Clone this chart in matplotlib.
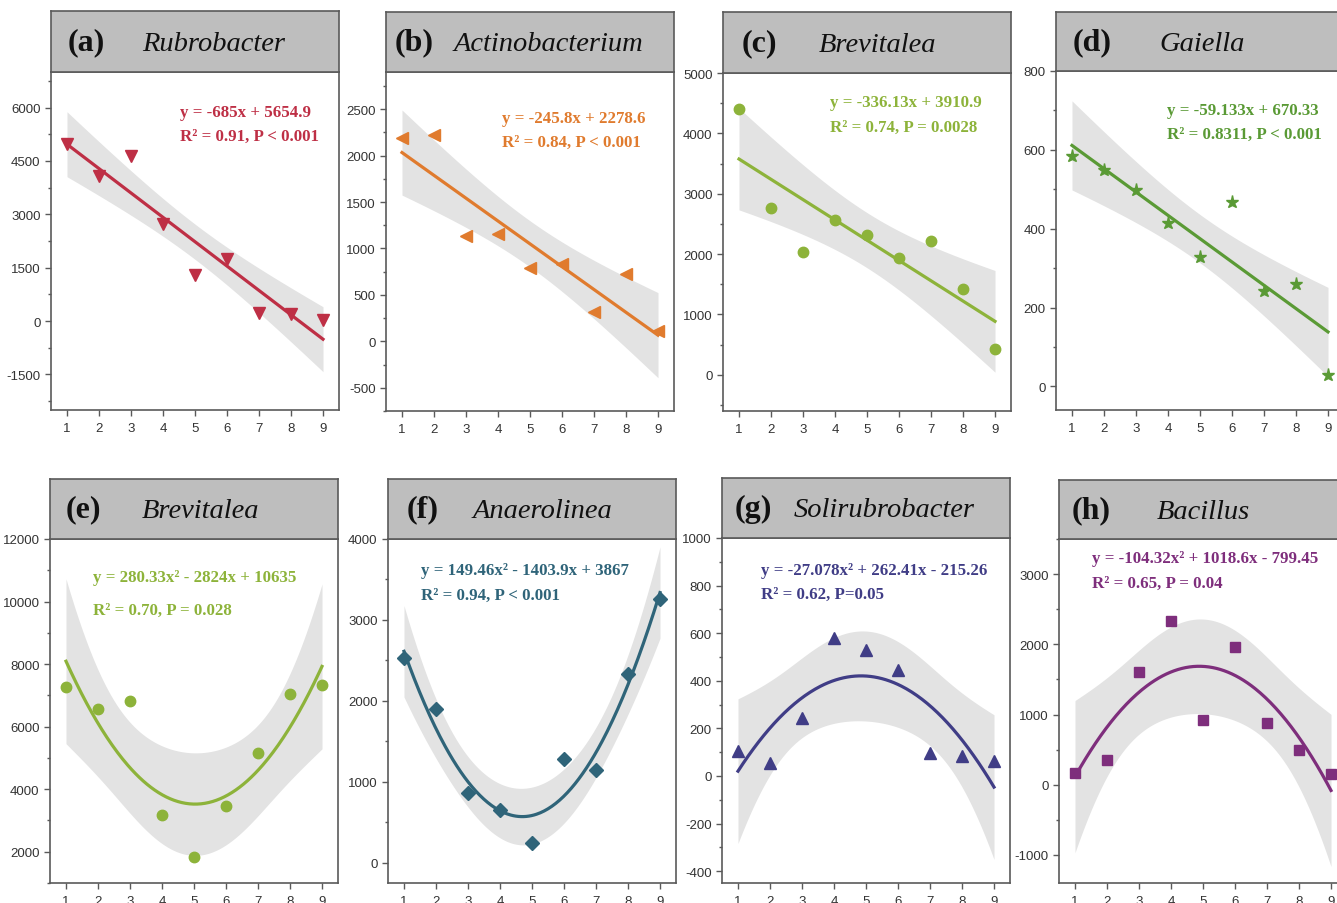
import numpy as np
import matplotlib
matplotlib.use('Agg')
from matplotlib import pyplot as plt
from matplotlib.ticker import MultipleLocator

plt.rcParams['axes.unicode_minus'] = False

# data, x = 1..9 for every panel
x = np.arange(1, 10)

y_a = [4970, 4080, 4640, 2740, 1285, 1755, 236, 188, 20]
y_b = [2187, 2222, 1135, 1160, 795, 835, 313, 727, 108]
y_c = [4397, 2763, 2034, 2569, 2321, 1934, 2221, 1420, 431]
y_d = [584, 548, 497, 414, 328, 468, 241, 259, 30]
y_e = [7267, 6552, 6808, 3160, 1842, 3456, 5160, 7044, 7331]
y_f = [2531, 1896, 864, 649, 247, 1288, 1143, 2337, 3263]
y_g = [105, 53, 243, 581, 528, 446, 97, 84, 64]
y_h = [166, 346, 1612, 2329, 925, 1959, 872, 498, 152]

# fit coefficients as printed on each panel (highest power first)
coef_a = [-685, 5654.9]
coef_b = [-245.8, 2278.6]
coef_c = [-336.13, 3910.9]
coef_d = [-59.133, 670.33]
coef_e = [280.33, -2824, 10635]
coef_f = [149.46, -1403.9, 3867]
coef_g = [-27.078, 262.41, -215.26]
coef_h = [-104.32, 1018.6, -799.45]

letters = ['(a)', '(b)', '(c)', '(d)', '(e)', '(f)', '(g)', '(h)']
genera = ['Rubrobacter', 'Actinobacterium', 'Brevitalea', 'Gaiella',
          'Brevitalea', 'Anaerolinea', 'Solirubrobacter', 'Bacillus']
eq_lines = [
    ('y = -685x + 5654.9', 'R² = 0.91, P < 0.001'),
    ('y = -245.8x + 2278.6', 'R² = 0.84, P < 0.001'),
    ('y = -336.13x + 3910.9', 'R² = 0.74, P = 0.0028'),
    ('y = -59.133x + 670.33', 'R² = 0.8311, P < 0.001'),
    ('y = 280.33x² - 2824x + 10635', 'R² = 0.70, P = 0.028'),
    ('y = 149.46x² - 1403.9x + 3867', 'R² = 0.94, P < 0.001'),
    ('y = -27.078x² + 262.41x - 215.26', 'R² = 0.62, P=0.05'),
    ('y = -104.32x² + 1018.6x - 799.45', 'R² = 0.65, P = 0.04'),
]
ylims = [(-2500, 7000), (-750, 2900), (-600, 5000), (-60, 800),
         (1000, 12000), (-250, 4000), (-450, 1000), (-1400, 3500)]
ymajor = [1500, 500, 1000, 200, 2000, 1000, 200, 1000]

colors = ['#BE2F45', '#E07B2E', '#8DB33A', '#5A9A35',
          '#8DB33A', '#2F6479', '#403D86', '#7E2E7C']
markers = ['v', '<', 'o', '*', 'o', 'D', '^', 's']
msizes = [8.5, 8.5, 7.5, 9.5, 7.5, 7, 8.5, 6.5]

# panel boxes in pixels: left, top of header, top of plot, bottom of plot
boxes = [(51, 12, 73, 411), (386, 13, 73, 412), (723, 13, 74, 412), (1056, 13, 72, 411),
         (50, 480, 540, 884), (388, 480, 540, 884), (722, 479, 539, 884), (1059, 481, 540, 884)]
PW = 288
eq_pos = [(0.449, 0.881, 0.810), (0.403, 0.865, 0.794), (0.37, 0.914, 0.84),
          (0.385, 0.886, 0.815), (0.149, 0.89, 0.794), (0.114, 0.911, 0.837),
          (0.137, 0.908, 0.839), (0.114, 0.945, 0.872)]
head_pos = [(0.059, 0.317), (0.031, 0.236), (0.065, 0.332), (0.056, 0.36),
            (0.055, 0.32), (0.065, 0.295), (0.043, 0.248), (0.044, 0.34)]

T95 = {7: 2.3646, 6: 2.4469}
W, H = 1337, 904


def fit_band(xd, yd, coef, xs):
    deg = len(coef) - 1
    X = np.vander(xd, deg + 1)
    resid = np.asarray(yd) - np.polyval(coef, xd)
    dof = len(xd) - deg - 1
    s2 = np.sum(resid ** 2) / dof
    cov = np.linalg.inv(X.T @ X)
    Xs = np.vander(xs, deg + 1)
    se = np.sqrt(s2 * np.sum((Xs @ cov) * Xs, axis=1))
    yhat = np.polyval(coef, xs)
    return yhat, yhat - T95[dof] * se, yhat + T95[dof] * se


def main():
    fig = plt.figure(figsize=(W / 100, H / 100), dpi=100)
    ys = [y_a, y_b, y_c, y_d, y_e, y_f, y_g, y_h]
    coefs = [coef_a, coef_b, coef_c, coef_d, coef_e, coef_f, coef_g, coef_h]
    edge = '#5a5a5a'
    xs = np.linspace(1, 9, 200)

    for i in range(8):
        l, ht, pt, pb = boxes[i]
        ax = fig.add_axes([l / W, 1 - pb / H, PW / W, (pb - pt) / H])
        hx = fig.add_axes([l / W, 1 - pt / H, PW / W, (pt - ht) / H])

        yhat, lo, hi = fit_band(x, ys[i], coefs[i], xs)
        ax.fill_between(xs, lo, hi, color='#E3E3E3', lw=0, zorder=1)
        ax.plot(xs, yhat, color=colors[i], lw=2.3, zorder=2)
        ax.plot(x, ys[i], ls='none', marker=markers[i], ms=msizes[i],
                color=colors[i], mec=colors[i], zorder=3)

        ax.set_xlim(0.5, 9.5)
        ax.set_ylim(*ylims[i])
        ax.set_xticks(x)
        ax.yaxis.set_major_locator(MultipleLocator(ymajor[i]))
        ax.yaxis.set_minor_locator(MultipleLocator(ymajor[i] / 2))
        ax.tick_params(axis='both', which='major', direction='out', length=4,
                       width=1, color=edge, labelsize=9.5, labelcolor='#333333',
                       labelfontfamily='Liberation Sans')
        ax.tick_params(axis='y', which='minor', direction='out', length=2,
                       width=1, color=edge)
        ax.tick_params(axis='x', which='minor', length=0)
        ax.tick_params(axis='x', pad=5)
        for s in ax.spines.values():
            s.set_color(edge)
            s.set_linewidth(1.2)

        ex, ey1, ey2 = eq_pos[i]
        ax.text(ex, ey1, eq_lines[i][0], transform=ax.transAxes, ha='left', va='center',
                color=colors[i], fontsize=12.2, fontweight='bold', family='Liberation Serif')
        ax.text(ex, ey2, eq_lines[i][1], transform=ax.transAxes, ha='left', va='center',
                color=colors[i], fontsize=12.2, fontweight='bold', family='Liberation Serif')

        hx.set_facecolor('#BEBEBE')
        hx.set_xticks([])
        hx.set_yticks([])
        for s in hx.spines.values():
            s.set_color(edge)
            s.set_linewidth(1.2)
        lx, gx = head_pos[i]
        hx.text(lx, 0.5, letters[i], transform=hx.transAxes, ha='left', va='center',
                fontsize=23, fontweight='bold', family='Liberation Serif', color='#111111')
        hx.text(gx, 0.47, genera[i], transform=hx.transAxes, ha='left', va='center',
                fontsize=20.5, style='italic', family='Liberation Serif', color='#111111')

    fig.savefig('out.png', dpi=100)


if __name__ == '__main__':
    main()
